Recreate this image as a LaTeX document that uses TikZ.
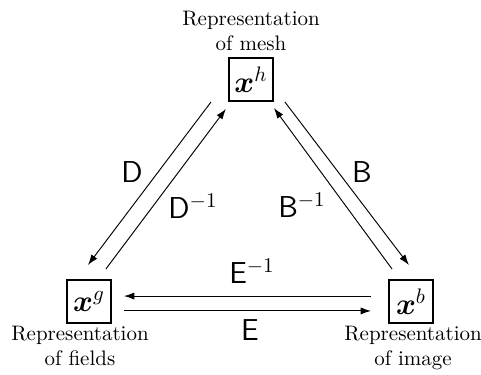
\documentclass[tikz,border=0pt]{standalone}
\usepackage{bm}
\usetikzlibrary{arrows.meta}
\begin{document}
\begin{tikzpicture}[x=0.4766pt,y=-0.4766pt,
  rep/.style={draw,line width=0.9pt,minimum width=21pt,minimum height=20.5pt,inner sep=1pt,font=\Large},
  captxt/.style={align=center,anchor=north,inner sep=0pt,font=\normalsize},
  lab/.style={font=\Large\sffamily,inner sep=0pt},
  arr/.style={line width=0.45pt,-{Latex[length=5pt,width=3.4pt]}}]
\useasboundingbox (0,0) rectangle (481,374);
\node[rep] (h) at (251,79.5) {$\bm{x}^h$\hspace{1pt}};
\node[rep] (g) at (89,301.5) {$\bm{x}^g$\hspace{1pt}};
\node[rep] (b) at (411,301.5) {$\bm{x}^b$\hspace{1pt}};
\node[captxt] (hc) at (251,10.7) {Representation\\of mesh};
\node[captxt] (gc) at (80,325.7) {Representation\\of fields};
\node[captxt] (bc) at (413,325.7) {Representation\\of image};
% D pair
\draw[arr] ([xshift=-8.1pt]h.south west) -- ([shift={(-0.5pt,6.7pt)}]g.north);
\draw[arr] ([shift={(-2.9pt,4.8pt)}]g.north east) -- ([shift={(-1pt,-3.3pt)}]h.south west);
% B pair
\draw[arr] ([xshift=5.2pt]h.south east) -- ([shift={(-1pt,6.7pt)}]b.north);
\draw[arr] ([shift={(1.9pt,4.8pt)}]b.north west) -- ([yshift=-2.9pt]h.south east);
% E pair
\draw[arr] ([shift={(-8.1pt,2.6pt)}]b.west) -- ([shift={(5.7pt,2.6pt)}]g.east);
\draw[arr] ([shift={(5.7pt,-4.5pt)}]g.east) -- ([shift={(-8.1pt,-4.5pt)}]b.west);
\node[lab] (dl) at (132,172) {D};
\node[lab] (dil) at (193,206) {D$^{-1}$};
\node[lab] (bl) at (362,172) {B};
\node[lab] (bil) at (302,205) {B$^{-1}$};
\node[lab] (eil) at (252,271) {E$^{-1}$};
\node[lab] (el) at (250,330) {E};
\end{tikzpicture}
\end{document}
